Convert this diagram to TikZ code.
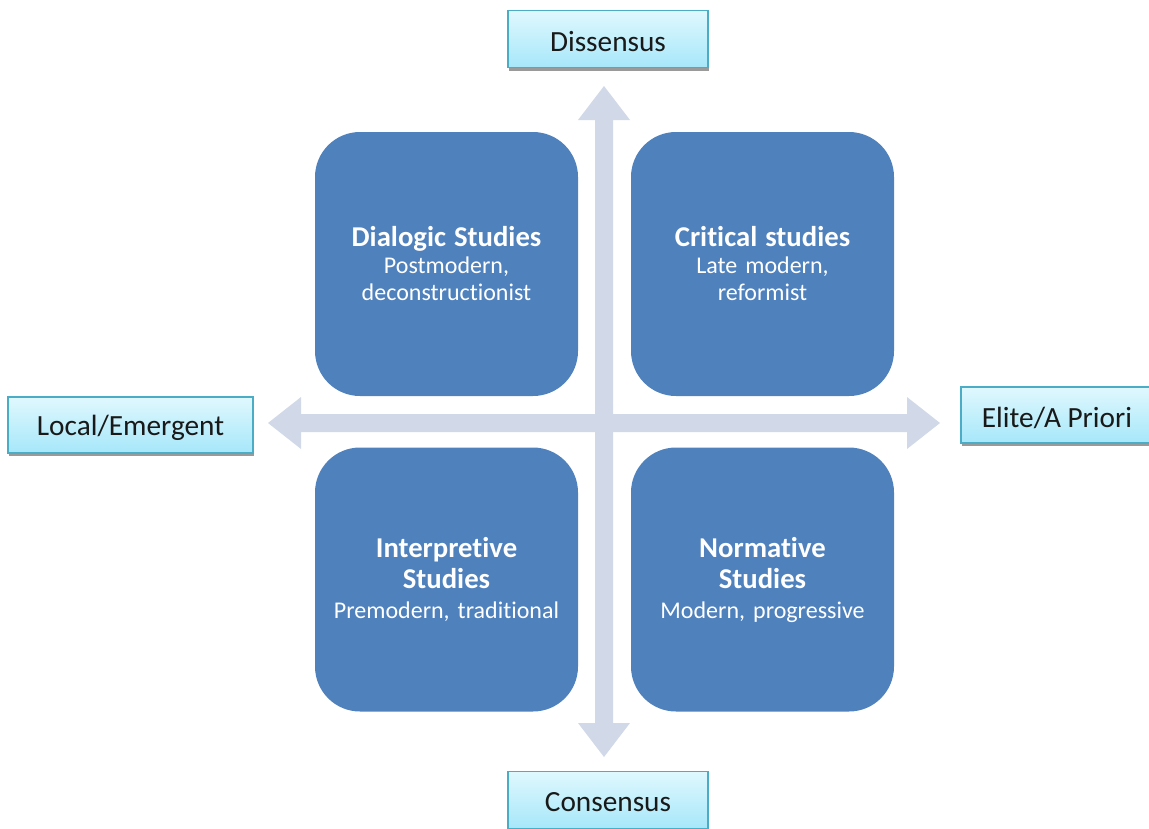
\documentclass[tikz,border=0pt]{standalone}
\usepackage{fontspec}
\setmainfont[Ligatures=NoCommon]{Carlito}
\usetikzlibrary{shadows}
\definecolor{quad}{HTML}{4F81BD}
\definecolor{axiscol}{HTML}{D1D8E7}
\definecolor{lblborder}{HTML}{4BACC6}
\definecolor{lbltop}{HTML}{E0F8FE}
\definecolor{lblbot}{HTML}{A6E7FA}
\definecolor{lblshadow}{HTML}{9A9A9A}
\tikzset{
 quadbox/.style={fill=quad, rounded corners=45pt, minimum width=263pt, minimum height=264pt,
   inner sep=0pt, text=white, align=center, text width=250pt, font=\frenchspacing\fontsize{24}{27}\selectfont},
 axislabel/.style={draw=lblborder, line width=1.2pt, top color=lbltop, bottom color=lblbot,
   inner sep=0pt, font=\frenchspacing\fontsize{29.3}{32}\selectfont, text=black!90,
   drop shadow={shadow xshift=1pt, shadow yshift=-3pt, fill=lblshadow, opacity=1}}
}
\tikzset{axisarrow/.style={fill=axiscol, draw=none}}
\newcommand{\qt}[1]{{\bfseries\fontsize{28.7}{31}\selectfont #1}}
\newcommand{\lowtxt}[1]{\raisebox{-2.5pt}[\height][\depth]{#1}}
\begin{document}
\begin{tikzpicture}[x=1pt,y=-1pt]
\useasboundingbox (0,0) rectangle (1149,828);
% axes
\coordinate (vtop) at (604,86);
\coordinate (vbot) at (604,757);
\coordinate (hleft) at (268,423);
\coordinate (hright) at (940,423);
\fill[axisarrow] (vtop) -- (630,120) -- (613,120) -- (613,723) -- (630,723) -- (vbot)
  -- (578,723) -- (595,723) -- (595,120) -- (578,120) -- cycle;
\fill[axisarrow] (hleft) -- (301,397) -- (301,414) -- (907,414) -- (907,397) -- (hright)
  -- (907,449) -- (907,432) -- (301,432) -- (301,449) -- cycle;
% quadrants
\node[quadbox] (dialogic) at (446.5,264) {\qt{Dialogic Studies}\\Postmodern,\\deconstructionist};
\node[quadbox] (critical) at (762.5,264) {\qt{Critical studies}\\Late modern,\\reformist};
\node[quadbox] (interp) at (446.5,579.5) {\qt{Interpretive}\\[4pt]\qt{Studies}\\[3pt]Premodern, traditional};
\node[quadbox] (norm) at (762.5,579.5) {\qt{Normative}\\[4pt]\qt{Studies}\\[3pt]Modern, progressive};
% axis labels
\node[axislabel, minimum width=200pt, minimum height=57pt] (dis) at (608,39) {\lowtxt{Dissensus}};
\node[axislabel, minimum width=200pt, minimum height=57pt] (con) at (608,800) {\lowtxt{Consensus}};
\node[axislabel, minimum width=245pt, minimum height=56pt] (loc) at (130.5,425) {\lowtxt{Local/Emergent}};
\node[axislabel, minimum width=192pt, minimum height=56pt] (eli) at (1057,415) {\lowtxt{Elite/A Priori}};
\end{tikzpicture}
\end{document}
